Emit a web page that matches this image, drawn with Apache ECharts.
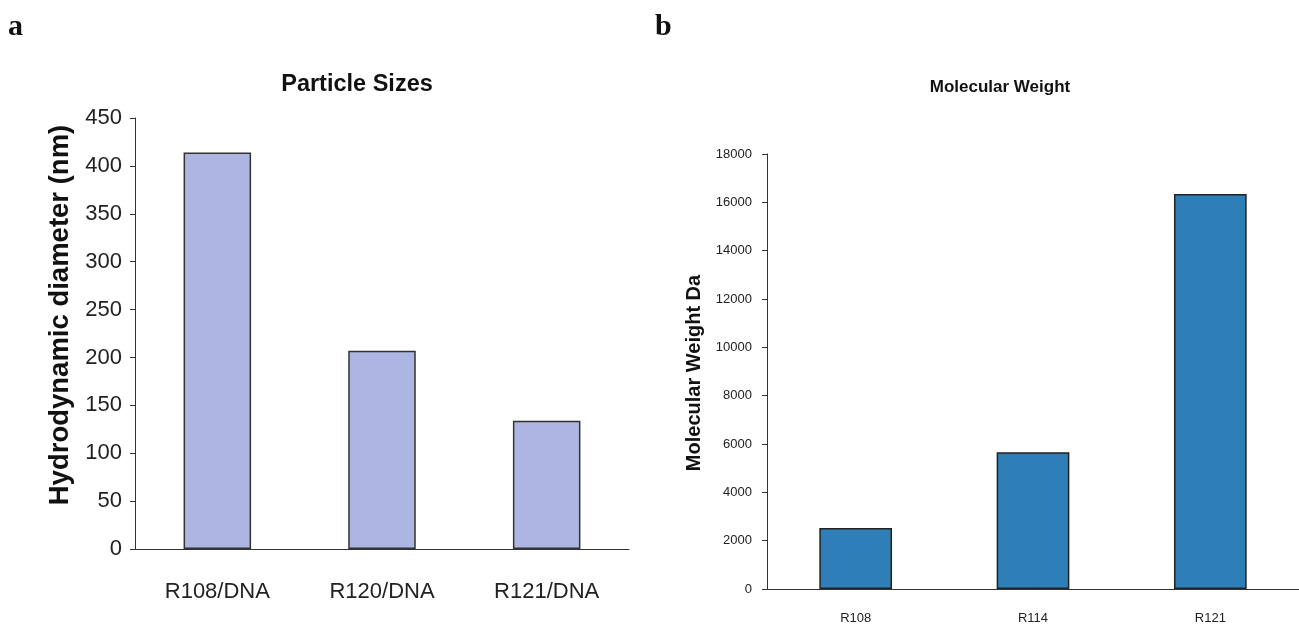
<!DOCTYPE html>
<html>
<head>
<meta charset="utf-8">
<script src="https://cdn.jsdelivr.net/npm/echarts@6/dist/echarts.min.js"></script>
<style>
  html, body { margin: 0; padding: 0; background: #fff; }
  #chart { width: 1299px; height: 628px; }
</style>
</head>
<body>
<div id="chart"></div>
<script>
// Panel a: particle sizes of the polyplexes
const sizeCategories = ['R108/DNA', 'R120/DNA', 'R121/DNA'];
const sizeValues = [414, 207, 134];

// Panel b: molecular weight of the polymers
const weightCategories = ['R108', 'R114', 'R121'];
const weightValues = [2520, 5660, 16340];

const sans = '"Liberation Sans", Arial, sans-serif';
const serif = '"Liberation Serif", "Times New Roman", serif';
const axisColor = '#333';

const chart = echarts.init(document.getElementById('chart'), null, { renderer: 'canvas' });

chart.setOption({
  backgroundColor: '#ffffff',
  animation: false,
  graphic: [
    { type: 'text', left: 8, top: 12, style: { text: 'a', font: 'bold 30px ' + serif, fill: '#111' } },
    { type: 'text', left: 655, top: 12, style: { text: 'b', font: 'bold 30px ' + serif, fill: '#111' } },
    { type: 'text', x: 357, y: 85, style: { text: 'Particle Sizes', font: 'bold 23.5px ' + sans, fill: '#111', align: 'center', verticalAlign: 'middle' } },
    { type: 'text', x: 1000, y: 87, style: { text: 'Molecular Weight', font: 'bold 17px ' + sans, fill: '#111', align: 'center', verticalAlign: 'middle' } },
    { type: 'text', x: 60, y: 315, rotation: Math.PI / 2, style: { text: 'Hydrodynamic diameter (nm)', font: 'bold 27.5px ' + sans, fill: '#111', align: 'center', verticalAlign: 'middle' } },
    { type: 'text', x: 694, y: 373, rotation: Math.PI / 2, style: { text: 'Molecular Weight Da', font: 'bold 20px ' + sans, fill: '#111', align: 'center', verticalAlign: 'middle' } }
  ],
  grid: [
    { left: 135, top: 118, width: 494, height: 431, containLabel: false },
    { left: 767, top: 154, width: 540, height: 435, containLabel: false }
  ],
  xAxis: [
    {
      type: 'category', gridIndex: 0, data: sizeCategories,
      axisLine: { lineStyle: { color: axisColor, width: 1 } },
      axisTick: { length: 9, lineStyle: { color: axisColor } },
      axisLabel: { color: '#222', fontFamily: sans, fontSize: 22, margin: 32 }
    },
    {
      type: 'category', gridIndex: 1, data: weightCategories,
      axisLine: { lineStyle: { color: axisColor, width: 1 } },
      axisTick: { length: 7, lineStyle: { color: axisColor } },
      axisLabel: { color: '#222', fontFamily: sans, fontSize: 13, margin: 23 }
    }
  ],
  yAxis: [
    {
      type: 'value', gridIndex: 0, min: 0, max: 450, interval: 50,
      axisLine: { show: true, lineStyle: { color: axisColor, width: 1 } },
      axisTick: { show: true, length: 5, lineStyle: { color: axisColor } },
      splitLine: { show: false },
      axisLabel: { color: '#222', fontFamily: sans, fontSize: 22, margin: 13 }
    },
    {
      type: 'value', gridIndex: 1, min: 0, max: 18000, interval: 2000,
      axisLine: { show: true, lineStyle: { color: axisColor, width: 1 } },
      axisTick: { show: true, length: 5, lineStyle: { color: axisColor } },
      splitLine: { show: false },
      axisLabel: { color: '#222', fontFamily: sans, fontSize: 13, margin: 15, formatter: (v) => String(v) }
    }
  ],
  series: [
    {
      type: 'bar', xAxisIndex: 0, yAxisIndex: 0, data: sizeValues, barWidth: '41%',
      itemStyle: { color: '#adb5e2', borderColor: '#333', borderWidth: 1.5 }
    },
    {
      type: 'bar', xAxisIndex: 1, yAxisIndex: 1, data: weightValues, barWidth: '41%',
      itemStyle: { color: '#2e7eb8', borderColor: '#222', borderWidth: 1.5 }
    }
  ]
});
</script>
</body>
</html>
